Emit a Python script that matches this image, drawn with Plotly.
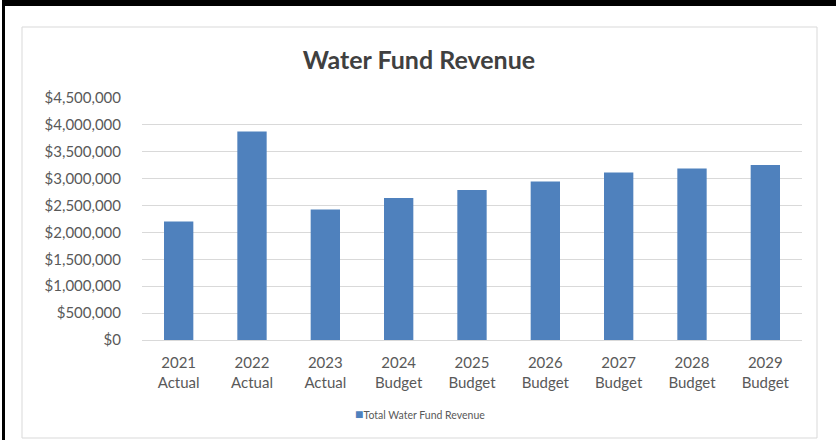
import plotly.graph_objects as go

categories = ["2021<br>Actual", "2022<br>Actual", "2023<br>Actual", "2024<br>Budget",
              "2025<br>Budget", "2026<br>Budget", "2027<br>Budget", "2028<br>Budget",
              "2029<br>Budget"]
revenue = [2205000, 3877000, 2428000, 2640000, 2788000, 2948000, 3115000, 3190000, 3253000]
series_name = "Total Water Fund Revenue"
title_text = "Water Fund Revenue"

W, H = 836, 440
L, R, T, B = 142, 802, 98, 340  # plot area in px

def px(x):
    return (x - L) / (R - L)

def py(y):
    return (B - y) / (B - T)

BAR = "#4F81BD"
TXT = "#595959"
GRID = "#D9D9D9"
FONT = "Lato, 'Open Sans', sans-serif"

fig = go.Figure()
fig.add_trace(go.Bar(x=categories, y=revenue, name=series_name,
                     marker=dict(color=BAR, line=dict(width=0)),
                     showlegend=False))

shapes = [
    # chart area frame
    dict(type="rect", xref="paper", yref="paper", x0=px(22), x1=px(817), y0=py(438), y1=py(27),
         line=dict(color=GRID, width=1), fillcolor="rgba(0,0,0,0)", layer="below"),
    # black outer border (top and left)
    dict(type="rect", xref="paper", yref="paper", x0=px(2), x1=px(836), y0=py(6), y1=py(0),
         line=dict(width=0), fillcolor="black"),
    dict(type="rect", xref="paper", yref="paper", x0=px(2), x1=px(5), y0=py(440), y1=py(0),
         line=dict(width=0), fillcolor="black"),
]

annotations = [
    dict(xref="paper", yref="paper", x=px(420), y=py(413), xanchor="center", yanchor="middle",
         showarrow=False,
         text='<span style="color:%s;font-size:14px">■</span>%s' % (BAR, series_name),
         font=dict(family=FONT, size=10.5, color=TXT)),
]

fig.update_layout(
    width=W, height=H,
    margin=dict(l=L, r=W - R, t=T, b=H - B, pad=0),
    paper_bgcolor="white", plot_bgcolor="white",
    title=dict(text="<b>%s</b>" % title_text, x=419 / W, xref="container", xanchor="center",
               y=1 - 60 / H, yref="container", yanchor="middle",
               font=dict(family=FONT, size=25, color="#404040")),
    bargap=0.6,
    shapes=shapes,
    annotations=annotations,
    font=dict(family=FONT, color=TXT),
)
fig.update_yaxes(range=[0, 4500000], dtick=500000, tickprefix="$", tickformat=",",
                 showgrid=True, gridcolor=GRID, gridwidth=1,
                 zeroline=True, zerolinecolor=GRID, zerolinewidth=1,
                 showline=False, ticks="", ticklabelstandoff=20,
                 tickfont=dict(family=FONT, size=15, color=TXT))
fig.update_xaxes(showline=False, ticks="", ticklabelstandoff=12,
                 tickfont=dict(family=FONT, size=15, color=TXT))

fig.write_html("out.html",
               config={"displayModeBar": False},
               post_script="document.body.style.margin='0';document.body.style.overflow='hidden';")
